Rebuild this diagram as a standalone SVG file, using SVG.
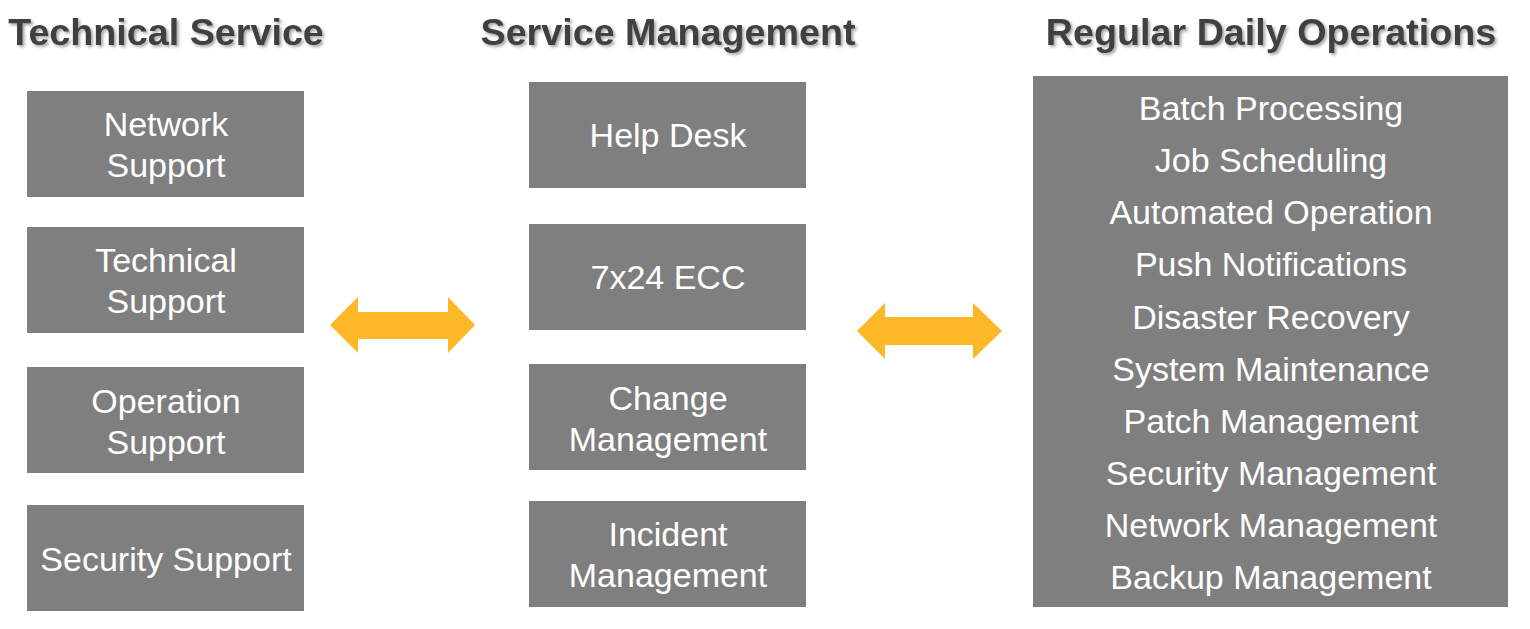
<svg xmlns="http://www.w3.org/2000/svg" width="1530" height="629" viewBox="0 0 1530 629">
<style>
.box{fill:#7F7F7F}
.t{font-family:"Liberation Sans",Arial,sans-serif;font-size:34px;fill:#FFFFFF;text-anchor:middle}
.h{font-family:"Liberation Sans",Arial,sans-serif;font-size:37.7px;font-weight:bold;fill:#404040;text-anchor:middle;filter:url(#sh)}
.arr{fill:#FDB827}
</style>
<defs>
<filter id="sh" x="-5%" y="-30%" width="110%" height="160%">
<feDropShadow dx="2" dy="2" stdDeviation="1.5" flood-color="#000000" flood-opacity="0.35"/>
</filter>
</defs>
<rect width="1530" height="629" fill="#FFFFFF"/>
<g id="titles">
<text class="h" x="166" y="45">Technical Service</text>
<text class="h" x="668" y="45">Service Management</text>
<text class="h" x="1271" y="45">Regular Daily Operations</text>
</g>
<g id="network-support"><rect class="box" x="27" y="91" width="277" height="106"/><text class="t" x="166" y="136">Network</text><text class="t" x="166" y="177">Support</text></g>
<g id="technical-support"><rect class="box" x="27" y="227" width="277" height="106"/><text class="t" x="166" y="272">Technical</text><text class="t" x="166" y="313">Support</text></g>
<g id="operation-support"><rect class="box" x="27" y="367" width="277" height="106"/><text class="t" x="166" y="413">Operation</text><text class="t" x="166" y="454">Support</text></g>
<g id="security-support"><rect class="box" x="27" y="505" width="277" height="106"/><text class="t" x="166" y="571">Security Support</text></g>
<g id="help-desk"><rect class="box" x="529" y="82" width="277" height="106"/><text class="t" x="668" y="147">Help Desk</text></g>
<g id="ecc"><rect class="box" x="529" y="224" width="277" height="106"/><text class="t" x="668" y="289">7x24 ECC</text></g>
<g id="change-management"><rect class="box" x="529" y="364" width="277" height="106"/><text class="t" x="668" y="410">Change</text><text class="t" x="668" y="451">Management</text></g>
<g id="incident-management"><rect class="box" x="529" y="501" width="277" height="106"/><text class="t" x="668" y="546">Incident</text><text class="t" x="668" y="587">Management</text></g>
<g id="daily-operations"><rect class="box" x="1033" y="76" width="475" height="531"/>
<text class="t" x="1271" y="120">Batch Processing</text>
<text class="t" x="1271" y="172">Job Scheduling</text>
<text class="t" x="1271" y="224">Automated Operation</text>
<text class="t" x="1271" y="276">Push Notifications</text>
<text class="t" x="1271" y="329">Disaster Recovery</text>
<text class="t" x="1271" y="381">System Maintenance</text>
<text class="t" x="1271" y="433">Patch Management</text>
<text class="t" x="1271" y="485">Security Management</text>
<text class="t" x="1271" y="537">Network Management</text>
<text class="t" x="1271" y="589">Backup Management</text>
</g>
<g id="connectors">
<path class="arr" d="M330,325 L358,297 L358,312 L448,312 L448,297 L475,325 L448,353 L448,339 L358,339 L358,353 Z"/>
<path class="arr" d="M857,331 L885,303 L885,317 L973,317 L973,303 L1002,331 L973,359 L973,345 L885,345 L885,359 Z"/>
</g>
</svg>
